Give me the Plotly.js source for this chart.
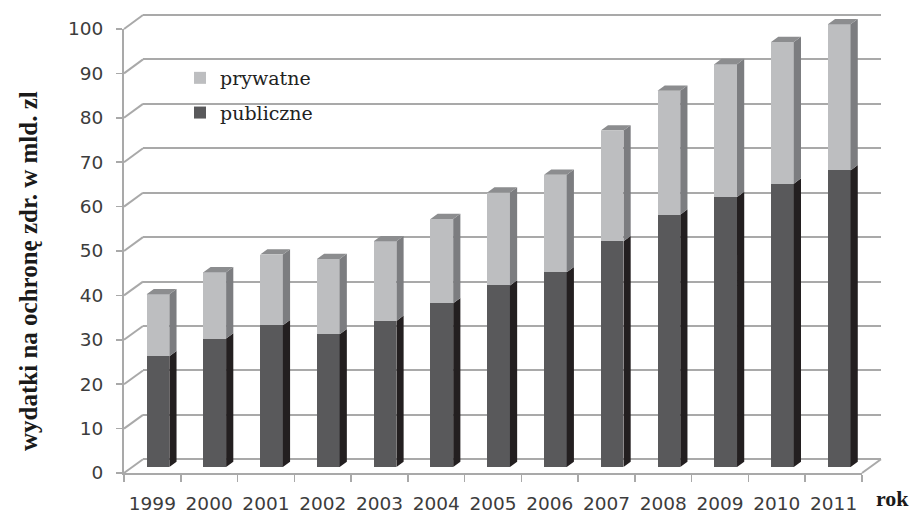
<!DOCTYPE html>
<html>
<head>
<meta charset="utf-8">
<script src="https://cdn.plot.ly/plotly-3.0.1.min.js"></script>
<style>
  html, body { margin: 0; padding: 0; background: #ffffff; }
  #chart { width: 912px; height: 513px; }
</style>
</head>
<body>
<div id="chart"></div>
<script>
// Health-care spending in Poland, 1999–2011 (bln PLN), public vs private
const years = ['1999', '2000', '2001', '2002', '2003', '2004', '2005', '2006', '2007', '2008', '2009', '2010', '2011'];
const publiczne = [25, 29, 32, 30, 33, 37, 41, 44, 51, 57, 61, 64, 67];
const prywatne = [14, 15, 16, 17, 18, 19, 21, 22, 25, 28, 30, 32, 33];
const seriesNames = ['publiczne', 'prywatne'];
const yTicks = [0, 10, 20, 30, 40, 50, 60, 70, 80, 90, 100];

const W = 912, H = 513;
const fx = px => px / W;
const fy = py => 1 - py / H;

// Pseudo-3D frame: a back wall, the plane the bars stand in, and the front axes.
const back  = { xl: 143,   xr: 881,   y0: 459.3, y100: 15 };
const plane = { xl: 129.6, xr: 867.6, y0: 467,   y100: 24.3 };
const front = { xl: 124,   xr: 862,   y0: 473,   y100: 29 };

function yDomain(f, lo, hi) {
  const u = (f.y0 - f.y100) / 100;
  return [fy(f.y0 - lo * u), fy(f.y0 - hi * u)];
}
const yPix = (f, v) => f.y0 - v * (f.y0 - f.y100) / 100;

const n = years.length;
const idx = years.map((_, i) => i);
const totals = publiczne.map((p, i) => p + prywatne[i]);

// Bar geometry in data units of the bar plane
const barW = 0.4;
const catPx = (plane.xr - plane.xl) / n;
const unitPx = (plane.y0 - plane.y100) / 100;
const depthX = 7.2 / catPx;
const depthY = 5.3 / unitPx;
const planeTop = 104; // headroom so the caps of the tallest bar are not clipped

function sidePolys(lowArr, highArr) {
  const xs = [], ys = [];
  idx.forEach(i => {
    const xr = i + barW / 2;
    xs.push(xr, xr + depthX, xr + depthX, xr, xr, null);
    ys.push(lowArr[i], lowArr[i] + depthY, highArr[i] + depthY, highArr[i], lowArr[i], null);
  });
  return { xs, ys };
}
function topPolys(topArr) {
  const xs = [], ys = [];
  idx.forEach(i => {
    const xl = i - barW / 2, xr = i + barW / 2;
    xs.push(xl, xl + depthX, xr + depthX, xr, xl, null);
    ys.push(topArr[i], topArr[i] + depthY, topArr[i] + depthY, topArr[i], topArr[i], null);
  });
  return { xs, ys };
}

const zeros = idx.map(() => 0);
const pubSide = sidePolys(zeros, publiczne);
const privSide = sidePolys(publiczne, totals);
const caps = topPolys(totals);

const colPubFront = '#59595b';
const colPubSide = '#231f20';
const colPrivFront = '#bdbec0';
const colPrivSide = '#7c7d80';
const colCap = '#8c8d8f';
const gridCol = '#a9a9a9';

const traces = [
  // back wall anchor
  { type: 'scatter', x: [0], y: [0], xaxis: 'x', yaxis: 'y', mode: 'markers',
    marker: { opacity: 0 }, showlegend: false, hoverinfo: 'skip' },
  { type: 'bar', name: seriesNames[0], x: idx, y: publiczne, xaxis: 'x2', yaxis: 'y2',
    width: barW, marker: { color: colPubFront, line: { width: 0 } },
    legendgroup: 'pub', legendrank: 2, hoverinfo: 'skip' },
  { type: 'bar', name: seriesNames[1], x: idx, y: prywatne, xaxis: 'x2', yaxis: 'y2',
    width: barW, marker: { color: colPrivFront, line: { width: 0 } },
    legendgroup: 'priv', legendrank: 1, hoverinfo: 'skip' },
  { type: 'scatter', x: pubSide.xs, y: pubSide.ys, xaxis: 'x2', yaxis: 'y2', mode: 'lines',
    fill: 'toself', fillcolor: colPubSide, line: { width: 0, color: colPubSide },
    showlegend: false, hoverinfo: 'skip' },
  { type: 'scatter', x: privSide.xs, y: privSide.ys, xaxis: 'x2', yaxis: 'y2', mode: 'lines',
    fill: 'toself', fillcolor: colPrivSide, line: { width: 0, color: colPrivSide },
    showlegend: false, hoverinfo: 'skip' },
  { type: 'scatter', x: caps.xs, y: caps.ys, xaxis: 'x2', yaxis: 'y2', mode: 'lines',
    fill: 'toself', fillcolor: colCap, line: { width: 0, color: colCap },
    showlegend: false, hoverinfo: 'skip' },
  // category axis in front
  { type: 'scatter', x: years, y: totals, xaxis: 'x3', yaxis: 'y3', mode: 'markers',
    marker: { opacity: 0 }, showlegend: false, hoverinfo: 'skip' }
];

// Connectors from front axis ticks back to the wall, plus the right floor edge
const shapes = yTicks.map(v => ({
  type: 'line', xref: 'paper', yref: 'paper',
  x0: fx(front.xl), y0: fy(yPix(front, v)), x1: fx(back.xl), y1: fy(yPix(back, v)),
  line: { color: gridCol, width: 2 }
}));
shapes.push({
  type: 'line', xref: 'paper', yref: 'paper',
  x0: fx(front.xr), y0: fy(front.y0), x1: fx(back.xr), y1: fy(back.y0),
  line: { color: gridCol, width: 2 }
});

const tickFont = { family: 'DejaVu Sans', size: 18.5, color: '#3c3c3c' };

const layout = {
  width: W, height: H,
  margin: { l: 0, r: 0, t: 0, b: 0 },
  paper_bgcolor: '#ffffff',
  plot_bgcolor: 'rgba(0,0,0,0)',
  barmode: 'stack',
  hovermode: false,
  showlegend: true,
  legend: {
    x: fx(180), y: fy(59), xanchor: 'left', yanchor: 'top',
    traceorder: 'grouped', tracegroupgap: 7,
    font: { family: 'DejaVu Serif', size: 19, color: '#222222' },
    bgcolor: 'rgba(0,0,0,0)', borderwidth: 0, itemwidth: 30
  },
  xaxis: { domain: [fx(back.xl), fx(back.xr)], range: [0, 1], visible: false, anchor: 'y' },
  yaxis: {
    domain: yDomain(back, -0.6, 100.6), range: [-0.6, 100.6], anchor: 'x',
    tickmode: 'array', tickvals: yTicks, showticklabels: false, ticks: '',
    showgrid: true, gridcolor: gridCol, gridwidth: 2, zeroline: false, showline: false
  },
  xaxis2: { domain: [fx(plane.xl), fx(plane.xr)], range: [-0.5, n - 0.5], visible: false, anchor: 'y2' },
  yaxis2: { domain: yDomain(plane, 0, planeTop), range: [0, planeTop], visible: false, anchor: 'x2' },
  xaxis3: {
    domain: [fx(front.xl), fx(front.xr)], anchor: 'y3',
    type: 'category', categoryorder: 'array', categoryarray: years, range: [-0.5, n - 0.5],
    tickson: 'boundaries', ticks: 'outside', ticklen: 7, tickwidth: 1.5, tickcolor: gridCol,
    showline: true, linecolor: gridCol, linewidth: 2, showgrid: false, zeroline: false,
    tickfont: tickFont, ticklabelstandoff: 13
  },
  yaxis3: {
    domain: yDomain(front, 0, 100), range: [0, 100], anchor: 'x3',
    tickmode: 'array', tickvals: yTicks, ticks: 'outside', ticklen: 6, tickwidth: 1.5, tickcolor: gridCol,
    showline: true, linecolor: gridCol, linewidth: 2, showgrid: false, zeroline: false,
    tickfont: tickFont, ticklabelstandoff: 9
  },
  shapes: shapes,
  annotations: [
    {
      text: '<b>wydatki na ochronę zdr. w mld. zl</b>', xref: 'paper', yref: 'paper',
      x: fx(28), y: fy(271), xanchor: 'center', yanchor: 'middle', textangle: -90, showarrow: false,
      font: { family: 'Liberation Serif', size: 25, color: '#1a1a1a' }
    },
    {
      text: '<b>rok</b>', xref: 'paper', yref: 'paper',
      x: fx(892), y: fy(498), xanchor: 'center', yanchor: 'middle', showarrow: false,
      font: { family: 'Liberation Serif', size: 22, color: '#1a1a1a' }
    }
  ]
};

Plotly.newPlot('chart', traces, layout, { staticPlot: true, displayModeBar: false });
</script>
</body>
</html>
